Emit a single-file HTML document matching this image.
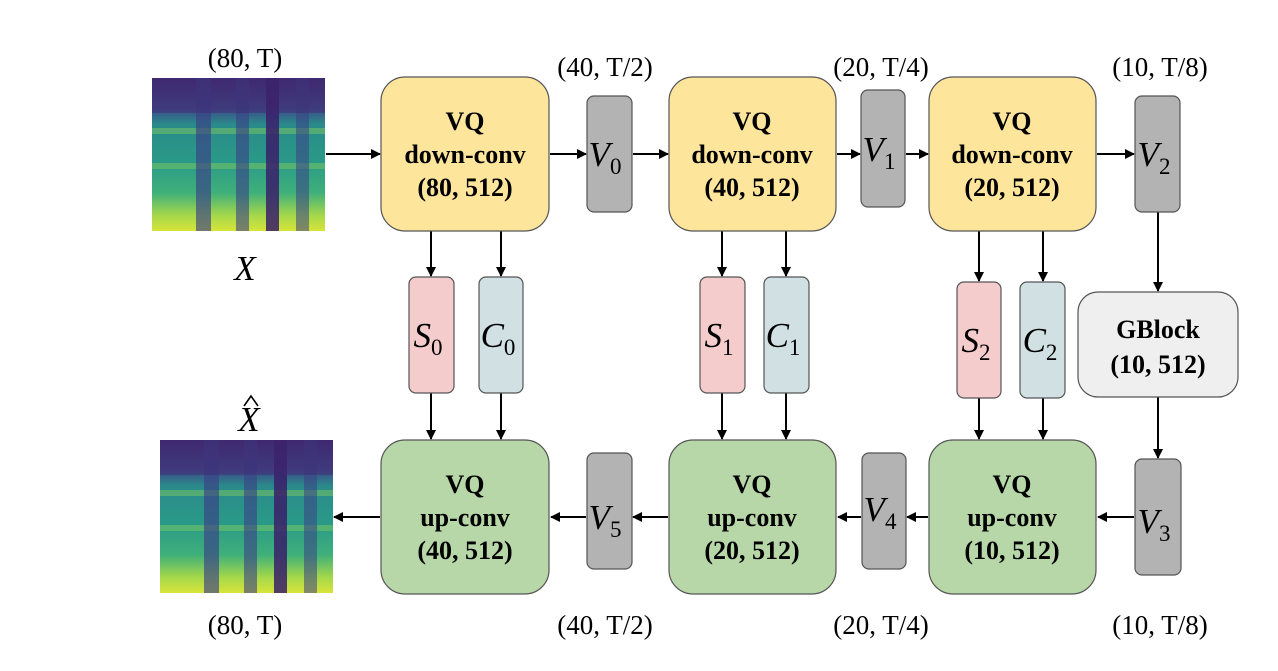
<!DOCTYPE html>
<html><head><meta charset="utf-8"><style>
body{margin:0;background:#fff}
svg text{font-family:"Liberation Serif",serif}
.b{font-weight:bold;font-size:26px;text-anchor:middle}
.l{font-size:27px;text-anchor:middle}
.m{font-style:italic;font-size:35px;text-anchor:middle}
.s{font-size:23px;font-style:normal}
</style></head><body>
<svg width="1278" height="666" viewBox="0 0 1278 666" xmlns="http://www.w3.org/2000/svg">
<defs>
<marker id="a" markerWidth="10" markerHeight="10" refX="9" refY="5" orient="auto" markerUnits="userSpaceOnUse">
<path d="M0,0 L10,5 L0,10 z" fill="#000"/></marker>
<linearGradient id="g" x1="0" y1="0" x2="0" y2="1">
<stop offset="0" stop-color="#3f2a72"/><stop offset="0.2" stop-color="#3e4a8a"/>
<stop offset="0.3" stop-color="#2a8a8a"/><stop offset="0.55" stop-color="#2a9a88"/>
<stop offset="0.75" stop-color="#3fb07a"/><stop offset="0.9" stop-color="#a6d84a"/>
<stop offset="1" stop-color="#d8e43a"/></linearGradient>
<g id="spec">
<rect x="0" y="0" width="173" height="153" fill="url(#g)"/>
<rect x="0" y="50" width="173" height="6" fill="#7cc860" opacity="0.5"/>
<rect x="0" y="85" width="173" height="6" fill="#7cc860" opacity="0.5"/>
<rect x="44" y="0" width="15" height="153" fill="#3b3f85" opacity="0.65"/>
<rect x="84" y="0" width="13" height="153" fill="#3b3f85" opacity="0.6"/>
<rect x="114" y="0" width="13" height="153" fill="#3a1f6a" opacity="0.85"/>
<rect x="144" y="0" width="13" height="153" fill="#3b3f85" opacity="0.55"/>
<rect x="0" y="0" width="173" height="35" fill="#40276e" opacity="0.45"/>
</g>
</defs>

<use href="#spec" x="152" y="78"/>
<use href="#spec" x="160" y="440"/>

<g stroke="#000" stroke-width="2" fill="none" marker-end="url(#a)">
<line x1="326" y1="154" x2="380" y2="154"/>
<line x1="550" y1="154" x2="586" y2="154"/>
<line x1="633" y1="154" x2="668" y2="154"/>
<line x1="837" y1="154" x2="860" y2="154"/>
<line x1="906" y1="154" x2="928" y2="154"/>
<line x1="1097" y1="154" x2="1134" y2="154"/>
<line x1="431" y1="231" x2="431" y2="276"/>
<line x1="501" y1="231" x2="501" y2="276"/>
<line x1="722" y1="231" x2="722" y2="276"/>
<line x1="786" y1="231" x2="786" y2="276"/>
<line x1="979" y1="231" x2="979" y2="281"/>
<line x1="1043" y1="231" x2="1043" y2="281"/>
<line x1="431" y1="393" x2="431" y2="439"/>
<line x1="501" y1="393" x2="501" y2="439"/>
<line x1="722" y1="393" x2="722" y2="439"/>
<line x1="786" y1="393" x2="786" y2="439"/>
<line x1="979" y1="398" x2="979" y2="439"/>
<line x1="1043" y1="398" x2="1043" y2="439"/>
<line x1="1158" y1="212" x2="1158" y2="291"/>
<line x1="1158" y1="397" x2="1158" y2="458"/>
<line x1="1134" y1="517" x2="1098" y2="517"/>
<line x1="928" y1="517" x2="907" y2="517"/>
<line x1="861" y1="517" x2="838" y2="517"/>
<line x1="668" y1="517" x2="633" y2="517"/>
<line x1="586" y1="517" x2="551" y2="517"/>
<line x1="380" y1="517" x2="334" y2="517"/>
</g>

<g stroke="#555" stroke-width="1.2">
<rect x="381" y="77" width="168" height="154" rx="24" fill="#fee59c"/>
<rect x="669" y="77" width="167" height="154" rx="24" fill="#fee59c"/>
<rect x="929" y="77" width="167" height="154" rx="24" fill="#fee59c"/>
<rect x="381" y="440" width="168" height="154" rx="24" fill="#b7d7a8"/>
<rect x="669" y="440" width="167" height="154" rx="24" fill="#b7d7a8"/>
<rect x="929" y="440" width="167" height="154" rx="24" fill="#b7d7a8"/>
<rect x="1078" y="292" width="160" height="105" rx="20" fill="#efefef"/>
<rect x="587" y="96" width="45" height="116" rx="7" fill="#b3b3b3"/>
<rect x="861" y="90" width="44" height="117" rx="7" fill="#b3b3b3"/>
<rect x="1135" y="96" width="45" height="116" rx="7" fill="#b3b3b3"/>
<rect x="587" y="453" width="45" height="116" rx="7" fill="#b3b3b3"/>
<rect x="862" y="453" width="44" height="116" rx="7" fill="#b3b3b3"/>
<rect x="1135" y="459" width="46" height="116" rx="7" fill="#b3b3b3"/>
<rect x="409" y="277" width="45" height="116" rx="7" fill="#f4cccc"/>
<rect x="479" y="277" width="44" height="116" rx="7" fill="#d0e0e3"/>
<rect x="700" y="277" width="45" height="116" rx="7" fill="#f4cccc"/>
<rect x="764" y="277" width="45" height="116" rx="7" fill="#d0e0e3"/>
<rect x="957" y="282" width="44" height="116" rx="7" fill="#f4cccc"/>
<rect x="1020" y="282" width="45" height="116" rx="7" fill="#d0e0e3"/>
</g>

<g class="b">
<text x="465" y="130">VQ</text><text x="465" y="163">down-conv</text><text x="465" y="196">(80, 512)</text>
<text x="752" y="130">VQ</text><text x="752" y="163">down-conv</text><text x="752" y="196">(40, 512)</text>
<text x="1012" y="130">VQ</text><text x="1012" y="163">down-conv</text><text x="1012" y="196">(20, 512)</text>
<text x="465" y="493">VQ</text><text x="465" y="526">up-conv</text><text x="465" y="559">(40, 512)</text>
<text x="752" y="493">VQ</text><text x="752" y="526">up-conv</text><text x="752" y="559">(20, 512)</text>
<text x="1012" y="493">VQ</text><text x="1012" y="526">up-conv</text><text x="1012" y="559">(10, 512)</text>
<text x="1158" y="338">GBlock</text><text x="1158" y="373">(10, 512)</text>
</g>

<g class="l">
<text x="245" y="67">(80, T)</text>
<text x="605" y="76">(40, T/2)</text>
<text x="881" y="76">(20, T/4)</text>
<text x="1160" y="76">(10, T/8)</text>
<text x="245" y="634">(80, T)</text>
<text x="605" y="634">(40, T/2)</text>
<text x="881" y="634">(20, T/4)</text>
<text x="1160" y="634">(10, T/8)</text>
</g>

<g class="m">
<text x="245" y="280">X</text>
<text x="249" y="431">X</text>
<text x="605" y="166">V<tspan class="s" dy="8">0</tspan></text>
<text x="879" y="161">V<tspan class="s" dy="8">1</tspan></text>
<text x="1154" y="166">V<tspan class="s" dy="8">2</tspan></text>
<text x="605" y="529">V<tspan class="s" dy="8">5</tspan></text>
<text x="880" y="521">V<tspan class="s" dy="8">4</tspan></text>
<text x="1154" y="533">V<tspan class="s" dy="8">3</tspan></text>
<text x="428" y="347">S<tspan class="s" dy="8">0</tspan></text>
<text x="498" y="347">C<tspan class="s" dy="8">0</tspan></text>
<text x="719" y="347">S<tspan class="s" dy="8">1</tspan></text>
<text x="783" y="347">C<tspan class="s" dy="8">1</tspan></text>
<text x="976" y="352">S<tspan class="s" dy="8">2</tspan></text>
<text x="1040" y="352">C<tspan class="s" dy="8">2</tspan></text>
</g>
<path d="M244,406 L251,396 L258,406" stroke="#000" stroke-width="1.6" fill="none"/>
</svg>
</body></html>
